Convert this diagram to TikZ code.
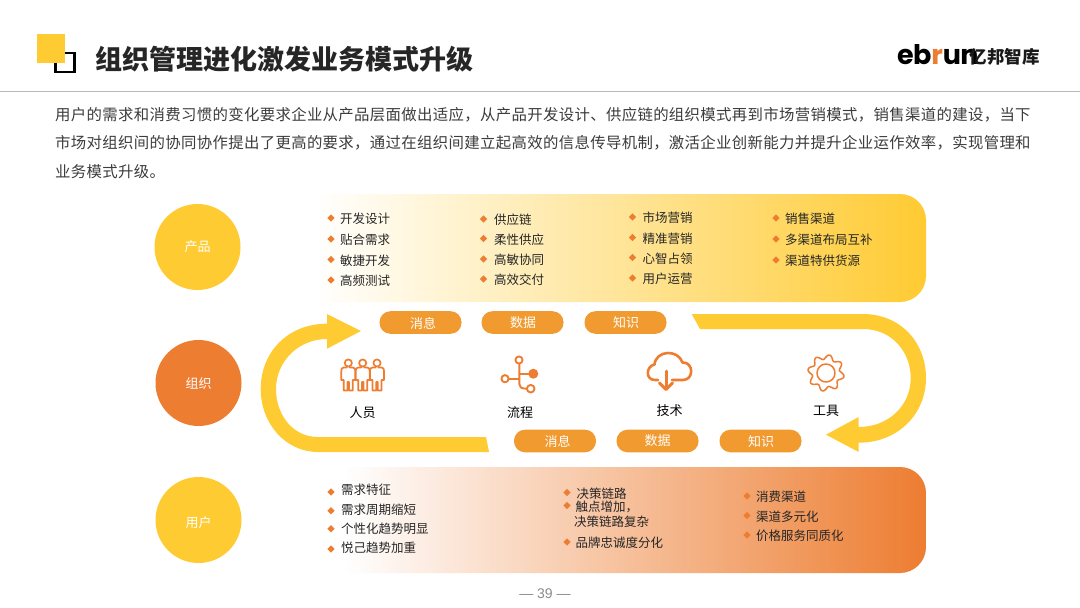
\documentclass[tikz,border=0pt]{standalone}
\usepackage{fontspec}
\setmainfont{Noto Sans CJK SC}
\newfontfamily\logofont{Poppins}
\newfontfamily\numfont{Liberation Sans}
\usetikzlibrary{shapes.geometric}
\definecolor{yy}{HTML}{FFCB33}
\definecolor{oo}{HTML}{ED7D31}
\definecolor{pillc}{HTML}{F09A30}
\definecolor{bodyc}{HTML}{3C3C3C}
\pgfdeclarehorizontalshading{topshade}{100bp}{rgb(0bp)=(1,1,1);rgb(35bp)=(1,1,1);rgb(75bp)=(1,0.796,0.2);rgb(100bp)=(1,0.796,0.2)}
\pgfdeclarehorizontalshading{botshade}{100bp}{rgb(0bp)=(1,1,1);rgb(37bp)=(1,1,1);rgb(75bp)=(0.929,0.49,0.192);rgb(100bp)=(0.929,0.49,0.192)}
\newcommand{\fsz}[1]{\fontsize{#1}{#1}\selectfont}
\tikzset{
  x=1pt,y=-1pt,
  circ/.style={circle,minimum size=86pt,inner sep=0pt},
  ctext/.style={inner sep=0pt,text=white,font=\fsz{13}},
  pill/.style={rounded corners=11pt,minimum width=82pt,minimum height=22.6pt,inner sep=0pt,fill=pillc},
  ptext/.style={inner sep=0pt,text=white,font=\fsz{13}},
  listtxt/.style={anchor=west,inner sep=0pt,text=black!85,font=\fsz{12.5}},
  bul/.style={diamond,fill=oo,inner sep=0pt,minimum size=7.5pt},
  lab/.style={inner sep=0pt,text=black,font=\fsz{13}},
  bodyline/.style={anchor=west,inner sep=0pt,text=bodyc,font=\fsz{15.4}\addfontfeature{LetterSpace=2.2}},
  iconl/.style={draw=oo,line width=1.7pt,line join=round,line cap=round},
  bigarrow/.style={fill=yy,draw=none}
}
\newcommand{\bli}[5]{\node[bul] (#1b) at (#2,#3) {};\node[listtxt] (#1) at (#4,#3+1) {#5};}
\newcommand{\blo}[6]{\node[bul] (#1b) at (#2,#3) {};\node[listtxt] (#1) at (#4,#5) {#6};}
\begin{document}
\begin{tikzpicture}
\useasboundingbox (0,0) rectangle (1080,608);
\fill[white] (0,0) rectangle (1080,608);
% header
\draw[black,line width=2.3pt] (55.5,53) rectangle (74.5,72);
\fill[yy] (37,34) rectangle (65,63.3);
\node[anchor=west,inner sep=0pt,text=black!85,font=\fsz{27}\bfseries] (title) at (95,59.5) {组织管理进化激发业务模式升级};
\draw[black!28,line width=1pt] (0,91) -- (1080,91);
\node[anchor=west,inner sep=0pt,font=\logofont\fsz{27}\bfseries\addfontfeature{LetterSpace=-3}] (logo) at (897,55) {eb\textcolor{oo}{r}un};
\node[anchor=west,inner sep=0pt,text=black!90,font=\fsz{17.5}\bfseries] (logocn) at (969.5,57) {亿邦智库};
% paragraph
\node[bodyline] (l1) at (55,114.5) {用户的需求和消费习惯的变化要求企业从产品层面做出适应，从产品开发设计、供应链的组织模式再到市场营销模式，销售渠道的建设，当下};
\node[bodyline] (l2) at (55,143) {市场对组织间的协同协作提出了更高的要求，通过在组织间建立起高效的信息传导机制，激活企业创新能力并提升企业运作效率，实现管理和};
\node[bodyline] (l3) at (55,171.5) {业务模式升级。};
% panels
\path[shading=topshade,rounded corners=26pt] (160,194) -- (926,194) -- (926,302) -- (160,302) [sharp corners] -- cycle;
\path[shading=botshade,rounded corners=26pt] (160,467) -- (926,467) -- (926,573) -- (160,573) [sharp corners] -- cycle;
% circles
\node[circ,fill=yy] (c1) at (197.5,247) {};
\node[ctext] (c1t) at (197.5,247) {产品};
\node[circ,fill=oo] (c2) at (198.5,383) {};
\node[ctext] (c2t) at (198.5,384) {组织};
\node[circ,fill=yy] (c3) at (198.5,520) {};
\node[ctext] (c3t) at (198.5,522.5) {用户};
% top lists
\bli{a1}{331}{218}{340}{开发设计}
\bli{a2}{331}{239}{340}{贴合需求}
\bli{a3}{331}{259.5}{340}{敏捷开发}
\bli{a4}{331}{280}{340}{高频测试}
\bli{b1}{483.5}{219}{494}{供应链}
\bli{b2}{483.5}{238.5}{494}{柔性供应}
\bli{b3}{483.5}{259}{494}{高敏协同}
\bli{b4}{483.5}{279}{494}{高效交付}
\bli{d1}{632.5}{217}{642.5}{市场营销}
\bli{d2}{632.5}{237.5}{642.5}{精准营销}
\bli{d3}{632.5}{257.5}{642.5}{心智占领}
\bli{d4}{632.5}{278}{642.5}{用户运营}
\bli{e1}{776}{218}{785}{销售渠道}
\bli{e2}{776}{239}{785}{多渠道布局互补}
\bli{e3}{776}{260}{785}{渠道特供货源}
% bottom lists
\blo{f1}{331}{492}{341}{490}{需求特征}
\blo{f2}{331}{510.7}{341}{509.5}{需求周期缩短}
\blo{f3}{331}{528.7}{341}{529}{个性化趋势明显}
\blo{f4}{331}{549}{341}{547.8}{悦己趋势加重}
\bli{g1}{567}{492.5}{576.5}{决策链路}
\bli{g2}{567}{505.5}{575.5}{触点增加，}
\node[listtxt] (g2b) at (574,522) {决策链路复杂};
\bli{g3}{567}{542}{575.5}{品牌忠诚度分化}
\bli{h1}{747}{496}{756}{消费渠道}
\bli{h2}{747}{515.5}{756}{渠道多元化}
\bli{h3}{747}{535}{756}{价格服务同质化}
% big arrows
\path[bigarrow] (489,452) -- (486,437) -- (318,437)
  .. controls (292,437) and (276,414) .. (276,389)
  .. controls (276,362) and (298,339) .. (327,339)
  -- (327,348.7) -- (361,331) -- (327,314) -- (327,323.7)
  .. controls (288,323.7) and (260.7,352) .. (260.7,389)
  .. controls (260.7,424) and (286,452) .. (318,452) -- cycle;
\path[bigarrow] (691.7,314) -- (700,329) -- (863,329)
  .. controls (892,329) and (910.7,352) .. (910.7,378)
  .. controls (910.7,406) and (888,427) .. (858.7,427)
  -- (858.7,417) -- (826,434.7) -- (858.7,452) -- (858.7,442.7)
  .. controls (898,442.7) and (926,414) .. (926,378)
  .. controls (926,342) and (900,314) .. (863,314) -- cycle;
% pills
\node[pill] (p1) at (420.5,322.5) {};
\node[ptext] (p1t) at (423,323) {消息};
\node[pill] (p2) at (522.5,322.5) {};
\node[ptext] (p2t) at (523,322.5) {数据};
\node[pill] (p3) at (625.5,322.5) {};
\node[ptext] (p3t) at (626,323) {知识};
\node[pill] (p4) at (555,441) {};
\node[ptext] (p4t) at (557.7,441.5) {消息};
\node[pill] (p5) at (657.5,441) {};
\node[ptext] (p5t) at (657.7,440.5) {数据};
\node[pill] (p6) at (760.5,441) {};
\node[ptext] (p6t) at (761,441.5) {知识};
% people icon
\foreach \c/\d in {348.3/0,377/0,362.7/1}{
  \draw[iconl,fill=white] ({\c-1.5},367.5) -- ({\c-4.5},367.5) .. controls ({\c-6.5},367.5) and ({\c-7},369) .. ({\c-7},371)
    -- ({\c-7},380) -- ({\c-4.5},380) -- ({\c-4.5},390.5) -- ({\c-0.8},390.5) -- ({\c-0.8},382) -- ({\c+0.8},382) -- ({\c+0.8},390.5) -- ({\c+4.5},390.5) -- ({\c+4.5},380) -- ({\c+7},380) -- ({\c+7},371)
    .. controls ({\c+7},369) and ({\c+6.5},367.5) .. ({\c+4.5},367.5) -- ({\c+1.5},367.5);
  \draw[iconl,fill=white] (\c,363) circle[radius=3.6pt];
}
% flow icon
\draw[iconl,line width=1.9pt] (519.3,364) -- (519.3,384) .. controls (519.3,387) and (521,388.7) .. (526.5,388.7);
\draw[iconl,line width=1.9pt] (509,378.7) -- (519.3,378.7);
\draw[iconl,line width=1.9pt] (519.3,373.7) -- (529,373.7);
\draw[iconl,line width=1.9pt] (519,360) circle[radius=3.6pt];
\draw[iconl,line width=1.9pt] (505,378.7) circle[radius=3.6pt];
\draw[iconl,line width=1.9pt] (530.7,388.7) circle[radius=3.8pt];
\fill[oo] (533.3,373.7) circle[radius=5pt];
% cloud icon
\draw[iconl,line width=2.6pt] (658,380) -- (655,380) .. controls (645,380) and (646,366) .. (654.5,364.5)
  .. controls (656,350) and (678,349) .. (682.5,362.5)
  .. controls (694,362) and (694,380) .. (683,380) -- (672,380);
\draw[iconl,line width=3pt] (666,371) -- (666,388);
\draw[iconl,line width=3pt] (659.5,383) -- (666,389.5) -- (672.5,383);
% gear icon
\draw[iconl,line width=1.5pt] plot[domain=0:360,samples=121,smooth] ({826+(16+2.3*sin(8*\x))*cos(\x)},{373+(16+2.3*sin(8*\x))*sin(\x)}) -- cycle;
\draw[iconl,line width=1.5pt] (826,373) circle[radius=9pt];
% labels
\node[lab] (t1) at (362.5,413) {人员};
\node[lab] (t2) at (520,413) {流程};
\node[lab] (t3) at (669.5,411) {技术};
\node[lab] (t4) at (826,411) {工具};
% footer
\node[inner sep=0pt,text=black!45,font=\numfont\fsz{14}] (pg) at (545,594) {— 39 —};
\end{tikzpicture}
\end{document}
